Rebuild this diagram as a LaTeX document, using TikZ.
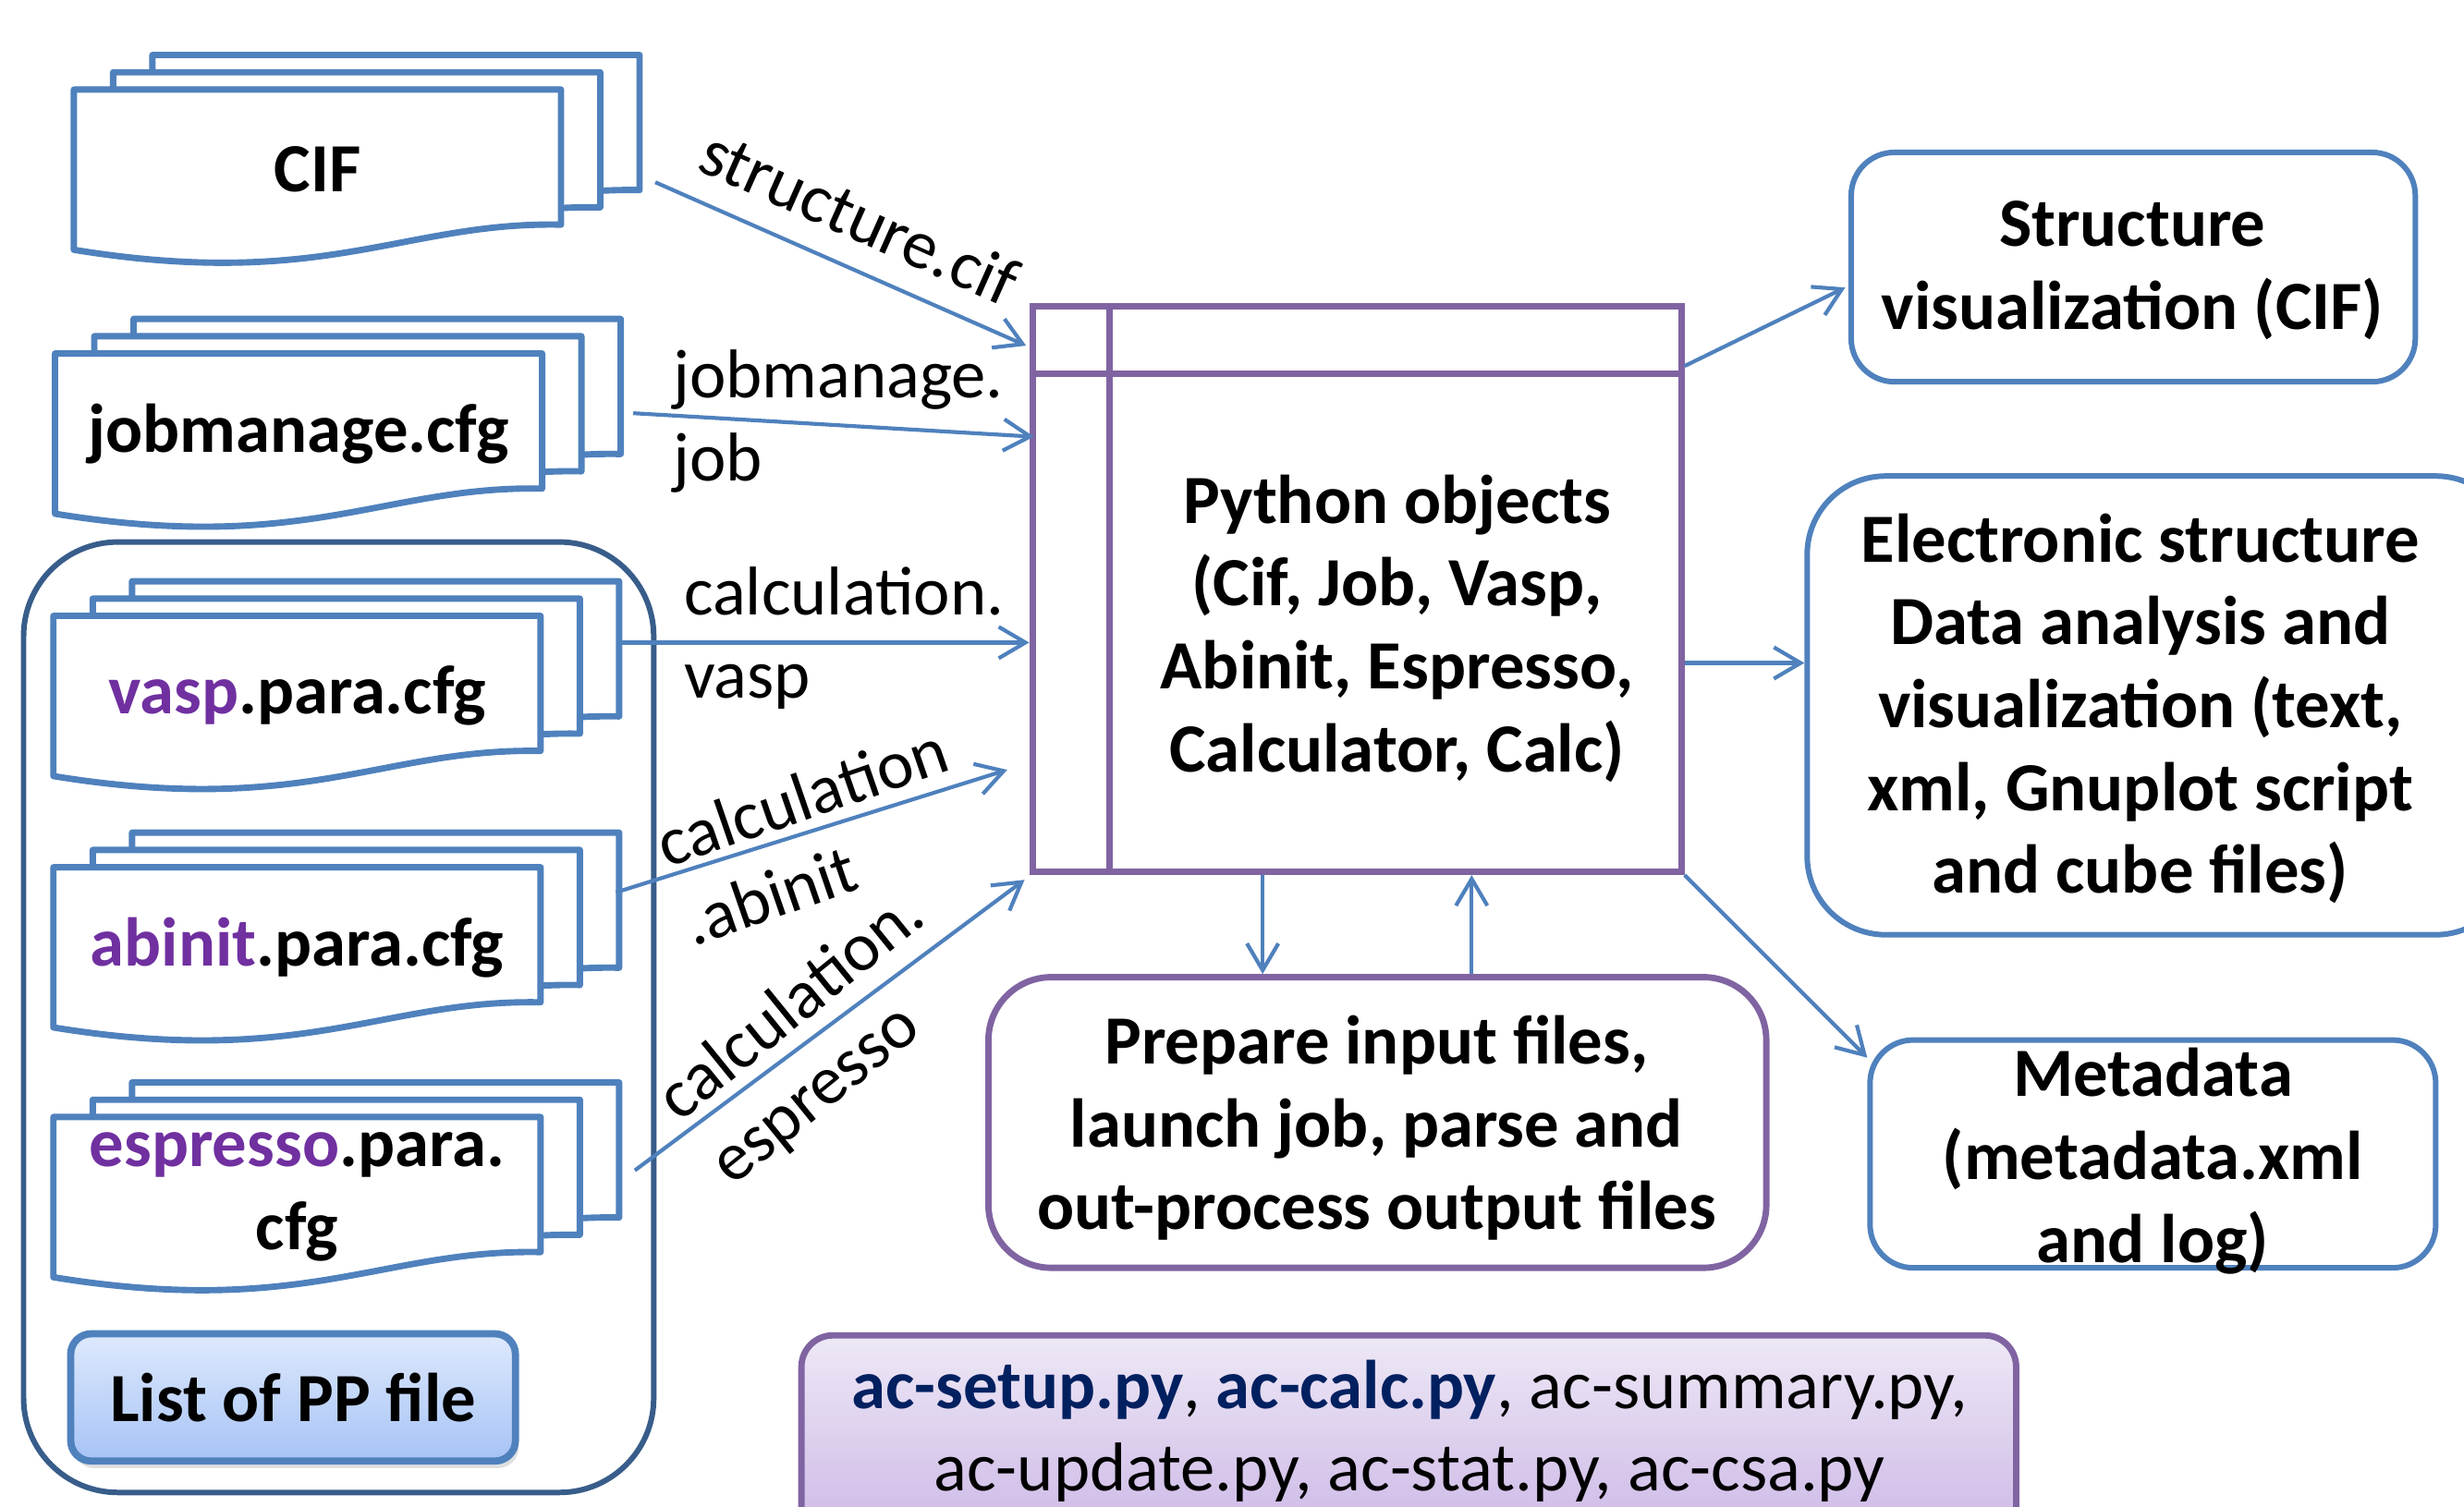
\documentclass[tikz,border=0pt]{standalone}
\usepackage{fontspec}
\setmainfont{Carlito}
\usetikzlibrary{arrows.meta,fit,calc,shadows}
\definecolor{docblue}{HTML}{4F81BD}
\definecolor{grpblue}{HTML}{385D8A}
\definecolor{objpurple}{HTML}{8064A2}
\definecolor{codepurple}{HTML}{7030A0}
\definecolor{navy}{HTML}{002060}
\definecolor{listtop}{HTML}{DEE9FC}
\definecolor{listbot}{HTML}{A6C3F6}
\definecolor{scrtop}{HTML}{EEE8F6}
\definecolor{scrbot}{HTML}{CCB8E6}
\tikzset{
  doc/.style={draw=docblue,line width=2.3pt,fill=white,line join=round},
  txt/.style={font=\fontsize{25}{30}\selectfont,align=center,inner sep=0pt},
  btxt/.style={txt,font=\fontsize{25}{30}\selectfont\bfseries},
  lbl/.style={font=\fontsize{25}{30}\selectfont,align=left,inner sep=0pt},
  arr/.style={draw=docblue,line width=1.4pt,-{Straight Barb[length=3.4mm,width=4mm]}},
  outbox/.style={draw=docblue,line width=2pt,inner sep=0pt},
  objbox/.style={draw=objpurple,line width=2.3pt,inner sep=0pt}
}
\newcommand{\docstack}[3]{%
  \begin{scope}[shift={#2}]
    \foreach \k in {2,1,0}
      \draw[doc,shift={(25*\k,-11*\k)}] (0,0) -- (310,0) -- (310,86)
        .. controls (210,84) and (160,128) .. (0,102) -- cycle;
    \node[btxt] (#1) at (155,51) {#3};
  \end{scope}}
\begin{document}
\begin{tikzpicture}[x=0.2mm,y=-0.2mm]
\useasboundingbox (0,0) rectangle (1568,959);
% pseudopotential group
\node[fit={(15,345) (416,950)},draw=grpblue,line width=2pt,rounded corners=12mm,inner sep=0pt] (pp) {};
\docstack{cif}{(47,57)}{CIF}
\docstack{job}{(35,225)}{jobmanage.cfg}
\docstack{vasp}{(34,392)}{{\color{codepurple}vasp}.para.cfg}
\docstack{abinit}{(34,552)}{{\color{codepurple}abinit}.para.cfg}
\docstack{espresso}{(34,711)}{{\color{codepurple}espresso}.para.\\cfg}
\node[fit={(45,849) (328,930)},draw=docblue,line width=2.6pt,rounded corners=2.6mm,
  top color=listtop,bottom color=listbot,inner sep=0pt,
  drop shadow={opacity=0.25,shadow xshift=0.4mm,shadow yshift=-0.9mm}] (list) {};
\node[btxt] at (list.center) {List of PP file};
% python objects
\node[fit={(657,195) (1070,555)},objbox] (py) {};
\draw[objbox] ($(py.north west)+(0,45)$) -- ($(py.north east)+(0,45)$);
\draw[objbox] ($(py.north west)+(51,0)$) -- ($(py.south west)+(51,0)$);
\node[btxt] (pytext) at (889,400) {Python objects\\(Cif, Job, Vasp,\\Abinit, Espresso,\\Calculator, Calc)};
\node[fit={(629,622) (1124,807)},objbox,rounded corners=8mm] (pr) {};
\node[btxt] at (876,718) {Prepare input files,\\launch job, parse and\\out-process output files};
\node[fit={(510,850) (1283,980)},objbox,rounded corners=4mm,top color=scrtop,bottom color=scrbot] (scr) {};
\node[txt] at (897,911) {{\color{navy}\bfseries ac-setup.py}, {\color{navy}\bfseries ac-calc.py}, ac-summary.py,\\ac-update.py, ac-stat.py, ac-csa.py};
% outputs
\node[fit={(1178,97) (1537,243)},outbox,rounded corners=5.5mm] (sv) {};
\node[btxt] at (1357,172) {Structure\\visualization (CIF)};
\node[fit={(1150,303) (1600,595)},outbox,rounded corners=10mm] (es) {};
\node[btxt] at (1362,451) {Electronic structure\\Data analysis and\\visualization (text,\\xml, Gnuplot script\\and cube files)};
\node[fit={(1190,662) (1550,807)},outbox,rounded corners=5.5mm] (md) {};
\node[btxt] at (1370,739) {Metadata\\(metadata.xml\\and log)};
% inputs
\coordinate (cifo) at (417,116);
\coordinate (jobo) at (403,263);
\coordinate (vaspo) at (395,409);
\coordinate (abo) at (392,568);
\coordinate (espo) at (404,745);
\draw[arr] (cifo) -- ($(py.north west)+(-2,27)$);
\draw[arr] (jobo) -- ($(py.north west)+(3,85)$);
\draw[arr] (vaspo) -- ($(py.west)+(0,34)$);
\draw[arr] (abo) -- ($(py.west)+(-14,115)$);
\draw[arr] (espo) -- ($(py.south west)+(-3,3)$);
\node[lbl,rotate=-24] (lcif) at (547,138) {structure.cif};
\node[lbl,anchor=west] (ljob) at (428,268) {jobmanage.\\job};
\node[lbl,anchor=west] (lvasp) at (435,406) {calculation.\\vasp};
\node[lbl,rotate=19] (labinit) at (519,532) {calculation\\.abinit};
\node[lbl,rotate=39] (lesp) at (521,662) {calculation.\\espresso};
% outputs
\draw[arr] ($(py.north east)+(0,40)$) -- ($(sv.west)+(-2,13)$);
\draw[arr] ($(py.east)+(0,47)$) -- ($(py.east -| es.west)+(0,47)$);
\draw[arr] (py.south east) -- ($(md.north west)+(0,13)$);
\coordinate (dn) at ($(py.south)+(-60,0)$);
\coordinate (up) at ($(py.south)+(73,0)$);
\draw[arr] (dn) -- (dn |- pr.north);
\draw[arr] (up |- pr.north) -- (up);
\end{tikzpicture}
\end{document}
